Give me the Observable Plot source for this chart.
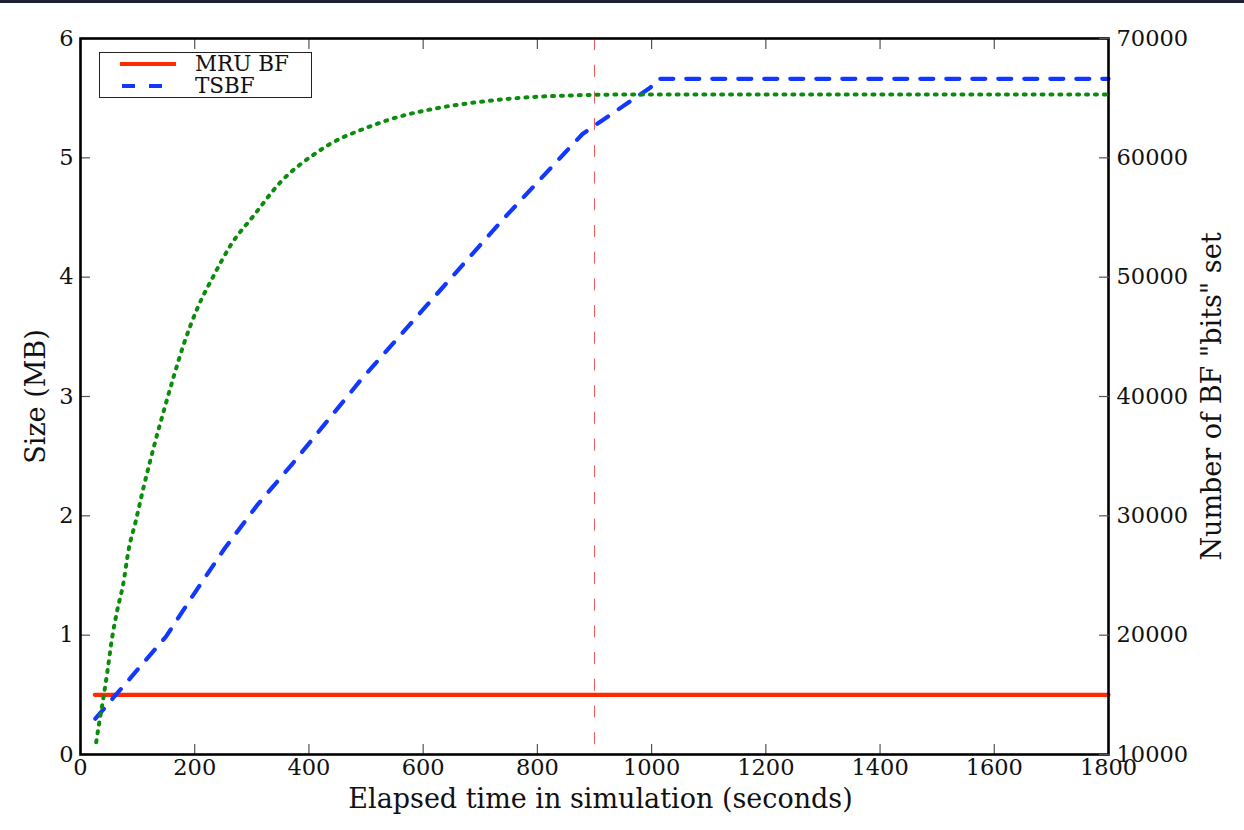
<!DOCTYPE html>
<html><head><meta charset="utf-8">
<script src="https://cdn.jsdelivr.net/npm/d3@7"></script>
<script src="https://cdn.jsdelivr.net/npm/@observablehq/plot@0.6"></script>
<style>
html,body{margin:0;padding:0;background:#fff;}
#wrap{position:relative;width:1244px;height:830px;overflow:hidden;font-family:"DejaVu Serif",serif;}
#topbar{position:absolute;left:0;top:0;width:1244px;height:3px;background:#1f1f33;z-index:5;}
#wrap > svg{position:absolute;left:0;top:0;}
#legend{position:absolute;left:99px;top:52px;width:211px;height:44px;border:1px solid #222;background:#fff;z-index:4;}
#legend svg{position:absolute;left:0;top:0;overflow:visible;}
</style></head><body>
<div id="wrap"><div id="topbar"></div></div>
<script>
// ---- data ----
const mruTime = [25, 1800];
const mruSize = [0.5, 0.5];

const tsbfTime = [26, 150, 200, 252, 309, 371, 490, 614, 738, 849, 879, 998, 1012, 1800];
const tsbfSize = [0.30, 0.99, 1.355, 1.724, 2.087, 2.436, 3.134, 3.805, 4.475, 5.047, 5.20, 5.59, 5.662, 5.662];

const bitsTime = [27.5, 32, 39.7, 46.8, 55.5, 64.3, 74.8, 84.6, 96.3, 109, 131.3, 148.8, 163.4, 180.9, 204.3, 233.4, 262.6, 303.4, 350.2, 414.5, 437.7, 496, 554.5, 618.6, 694.6, 770.4, 852.2, 939.7, 1800];
const bitsSet  = [11030, 12430, 14630, 16860, 19830, 22070, 24300, 27240, 29470, 32100, 36300, 39300, 41700, 44400, 47350, 50140, 52650, 55170, 57960, 60470, 61180, 62430, 63400, 64110, 64660, 65030, 65220, 65300, 65310];

const markerTime = [900];

const xTicks = [0, 200, 400, 600, 800, 1000, 1200, 1400, 1600, 1800];
const yLeftTicks = [0, 1, 2, 3, 4, 5, 6];
const yRightTicks = [10000, 20000, 30000, 40000, 50000, 60000, 70000];

const xLabel = "Elapsed time in simulation (seconds)";
const yLeftLabel = "Size (MB)";
const yRightLabel = "Number of BF \"bits\" set";
const legendLabels = ["MRU BF", "TSBF"];

// ---- build ----
const mruData = mruTime.map((t, i) => ({t, v: mruSize[i]}));
const tsbfData = tsbfTime.map((t, i) => ({t, v: tsbfSize[i]}));
const bitsData = bitsTime.map((t, i) => ({t, v: bitsSet[i]}));

const FONT = '"DejaVu Serif", serif';
const TICKFS = 22.5, LABELFS = 27;
const common = {
  width: 1244, height: 830,
  marginTop: 38, marginRight: 136, marginBottom: 76, marginLeft: 80,
  style: {fontFamily: FONT, fontSize: TICKFS + "px", background: "transparent", color: "#000", overflow: "visible"}
};
const RED = "#ff2a00", BLUE = "#1238ff", GREEN = "#0c8c0c";

const left = Plot.plot({
  ...common,
  x: {domain: [0, 1800], axis: null},
  y: {domain: [0, 6], axis: null},
  marks: [
    Plot.ruleX(markerTime, {x: d => d, stroke: "#f05a5a", strokeWidth: 1, strokeDasharray: "12,14.7"}),
    Plot.line(mruData, {x: "t", y: "v", stroke: RED, strokeWidth: 4.2}),
    Plot.line(tsbfData, {x: "t", y: "v", stroke: BLUE, strokeWidth: 4.2, strokeDasharray: "13,13"}),
    Plot.axisX({ticks: xTicks, anchor: "bottom", tickSize: -10, fill: "none", stroke: "#555", strokeWidth: 1.2, label: null}),
    Plot.axisX({ticks: xTicks, anchor: "top", tickSize: -10, fill: "none", stroke: "#555", strokeWidth: 1.2, label: null}),
    Plot.axisX({ticks: xTicks, anchor: "bottom", tickSize: 0, tickPadding: 5, tickFormat: d => String(d), label: null, fill: "#111", fontSize: TICKFS}),
    Plot.axisY({ticks: yLeftTicks, anchor: "left", tickSize: -10, fill: "none", stroke: "#555", strokeWidth: 1.2, label: null}),
    Plot.axisY({ticks: yLeftTicks, anchor: "left", tickSize: 0, tickPadding: 7, tickFormat: d => String(d), label: null, fill: "#111", fontSize: TICKFS}),
    Plot.frame({stroke: "#000", strokeWidth: 2.6}),
    Plot.text([xLabel], {text: d => d, frameAnchor: "bottom", textAnchor: "middle", lineAnchor: "middle", dx: 6, dy: 45, fontSize: LABELFS, fill: "#111"}),
    Plot.text([yLeftLabel], {text: d => d, frameAnchor: "left", textAnchor: "middle", lineAnchor: "middle", dx: -44, rotate: -90, fontSize: LABELFS, fill: "#111"})
  ]
});

const right = Plot.plot({
  ...common,
  x: {domain: [0, 1800], axis: null},
  y: {domain: [10000, 70000], axis: null},
  marks: [
    Plot.line(bitsData, {x: "t", y: "v", stroke: GREEN, strokeWidth: 4, strokeDasharray: "2,6.9", curve: "monotone-x"}),
    Plot.axisY({ticks: yRightTicks, anchor: "right", tickSize: -10, fill: "none", stroke: "#555", strokeWidth: 1.2, label: null}),
    Plot.axisY({ticks: yRightTicks, anchor: "right", tickSize: 0, tickPadding: 8, tickFormat: d => String(d), label: null, fill: "#111", fontSize: TICKFS}),
    Plot.text([yRightLabel], {text: d => d, frameAnchor: "right", textAnchor: "middle", lineAnchor: "middle", dx: 104, rotate: -90, fontSize: LABELFS, fill: "#111"})
  ]
});

const wrap = document.getElementById("wrap");
wrap.appendChild(left);
wrap.appendChild(right);

// legend
const lg = document.createElement("div");
lg.id = "legend";
const ns = "http://www.w3.org/2000/svg";
const ls = document.createElementNS(ns, "svg");
ls.setAttribute("width", 211); ls.setAttribute("height", 44);
const items = [
  {label: legendLabels[0], color: RED, dash: null},
  {label: legendLabels[1], color: BLUE, dash: "13,14"}
];
items.forEach((it, i) => {
  const y = 11 + i * 22;
  const ln = document.createElementNS(ns, "line");
  ln.setAttribute("x1", i === 0 ? 20 : 22); ln.setAttribute("x2", i === 0 ? 76 : 62);
  ln.setAttribute("y1", y); ln.setAttribute("y2", y);
  ln.setAttribute("stroke", it.color); ln.setAttribute("stroke-width", 4.2);
  if (it.dash) ln.setAttribute("stroke-dasharray", it.dash);
  ls.appendChild(ln);
  const tx = document.createElementNS(ns, "text");
  tx.setAttribute("x", 95); tx.setAttribute("y", i === 0 ? 18 : 40);
  tx.setAttribute("font-family", FONT); tx.setAttribute("font-size", 21.5);
  tx.setAttribute("fill", "#111");
  tx.textContent = it.label;
  ls.appendChild(tx);
});
lg.appendChild(ls);
wrap.appendChild(lg);
</script>
</body></html>
